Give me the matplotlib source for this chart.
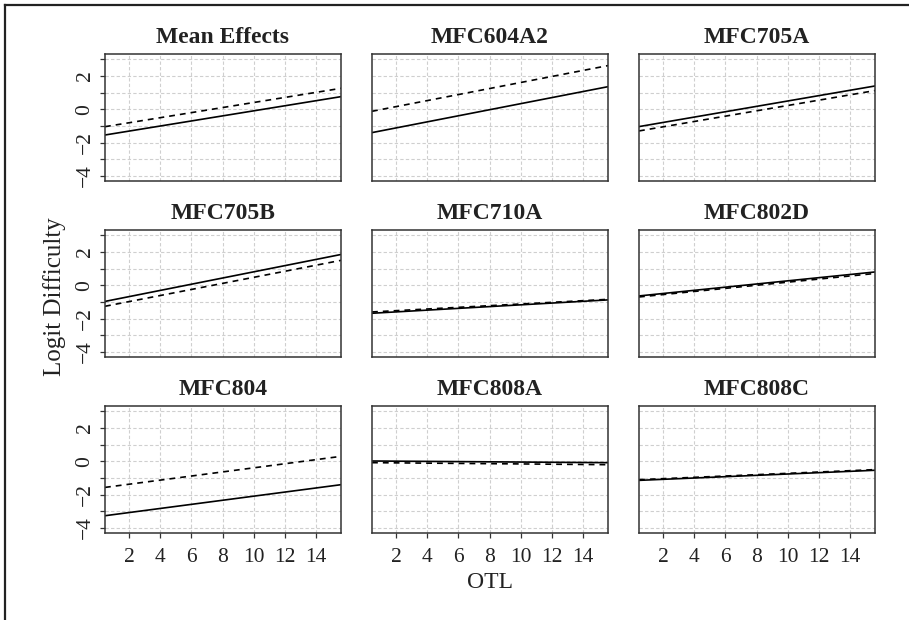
import matplotlib
matplotlib.use('Agg')
import numpy as np
import matplotlib.pyplot as plt
from matplotlib.lines import Line2D

plt.rcParams['font.family'] = ['Liberation Serif', 'DejaVu Serif']

# panel names, fitted lines (intercept at OTL=0, slope per OTL unit)
panels = ['Mean Effects', 'MFC604A2', 'MFC705A',
          'MFC705B', 'MFC710A', 'MFC802D',
          'MFC804', 'MFC808A', 'MFC808C']
solid_int = [-1.61, -1.48, -1.11, -1.05, -1.70, -0.68, -3.32, 0.023, -1.16]
solid_slope = [0.152, 0.182, 0.161, 0.186, 0.053, 0.095, 0.123, -0.0066, 0.040]
dash_int = [-1.11, -0.20, -1.37, -1.34, -1.62, -0.74, -1.62, -0.076, -1.12]
dash_slope = [0.152, 0.181, 0.160, 0.182, 0.050, 0.093, 0.123, -0.008, 0.040]

x_ticks = [2, 4, 6, 8, 10, 12, 14]
y_ticks = [-4, -3, -2, -1, 0, 1, 2, 3]
y_labels = ['\u22124', '', '\u22122', '', '0', '', '2', '']

W, H = 909, 620
fig = plt.figure(figsize=(W / 100, H / 100), dpi=100)

col_left = [105, 372, 639]
row_top = [54, 230, 406]
ax_w, ax_h = 236, 127

for i, name in enumerate(panels):
    r, c = divmod(i, 3)
    ax = fig.add_axes([col_left[c] / W, 1 - (row_top[r] + ax_h) / H, ax_w / W, ax_h / H])
    ax.set_xlim(0.46, 15.6)
    ax.set_ylim(-4.3, 3.32)
    ax.set_xticks(x_ticks)
    ax.set_yticks(y_ticks)
    ax.grid(True, color='#cfcfcf', linestyle=(0, (3, 2)), linewidth=0.8)
    ax.set_axisbelow(True)
    ax.axline((0, solid_int[i]), slope=solid_slope[i], color='black', lw=1.2)
    ax.axline((0, dash_int[i]), slope=dash_slope[i], color='black', lw=1.2,
              linestyle=(0, (3.5, 3)))
    for sp in ax.spines.values():
        sp.set_color('#333333')
        sp.set_linewidth(1.1)
    ax.set_title(name, fontsize=17, fontweight='bold', color='#222222', pad=8)

    if c == 0:
        ax.set_yticklabels(y_labels, rotation=90, va='center', fontsize=15.5, color='#222222')
        ax.tick_params(axis='y', length=3.5, width=0.9, color='#333333', pad=4)
    else:
        ax.tick_params(axis='y', length=0, labelleft=False)
    if r == 2:
        ax.set_xticklabels([str(v) for v in x_ticks], fontsize=15.5, color='#222222')
        ax.tick_params(axis='x', length=3.5, width=0.9, color='#333333', pad=7)
    else:
        ax.tick_params(axis='x', length=0, labelbottom=False)

fig.text(490 / W, 1 - 583 / H, 'OTL', ha='center', va='center', fontsize=17, color='#222222')
fig.text(55 / W, 1 - 297 / H, 'Logit Difficulty', ha='center', va='center',
         rotation=90, fontsize=18, color='#222222')

# frame on left and top edges
fig.add_artist(Line2D([5 / W, 5 / W], [0, 1 - 5 / H], color='#222222', lw=1.6))
fig.add_artist(Line2D([5 / W, 1], [1 - 5 / H, 1 - 5 / H], color='#222222', lw=1.6))

fig.savefig('out.png', dpi=100)
